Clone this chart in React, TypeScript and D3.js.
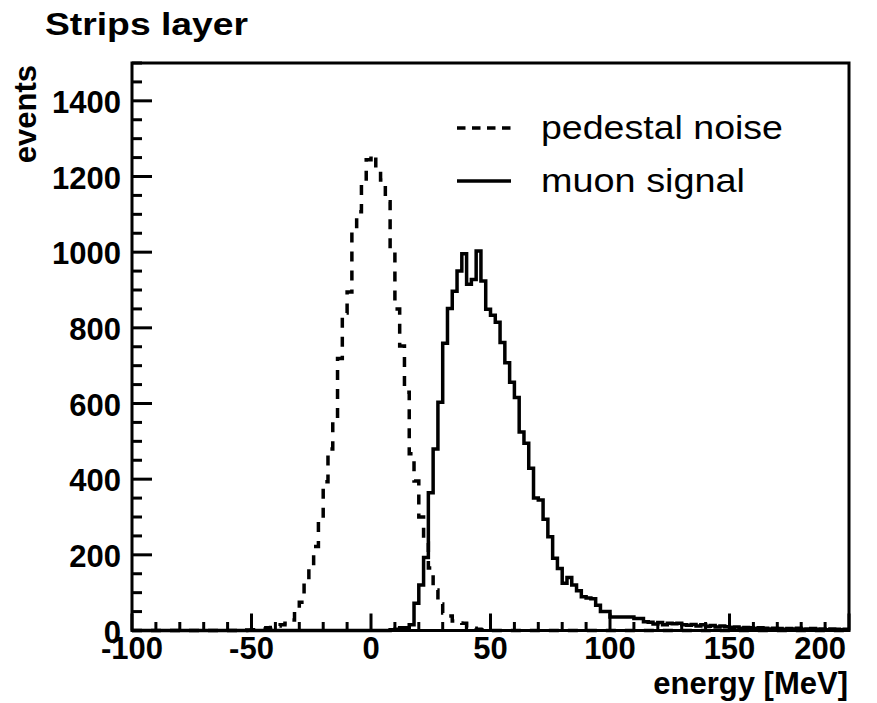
import React from "react";
import * as d3 from "d3";

// ---- data ----
const xDomain = [-100, 200];
const yDomain = [0, 1500];
const binWidth = 2;

// pedestal noise: counts per 2 MeV bin starting at -52 MeV
const noiseStart = -52;
const noiseCounts = [
  1, 2, 3, 4, 7, 8, 12, 15, 19, 28,
  50, 75, 129, 169, 222, 292, 393, 480, 551, 719,
  839, 895, 1063, 1107, 1185, 1244, 1257, 1219, 1191, 1133,
  1008, 850, 752, 630, 467, 395, 300, 231, 165, 107,
  70, 46, 38, 25, 20, 19, 8, 6, 3, 2, 1,
];

// muon signal: counts per 2 MeV bin starting at 8 MeV
const muonStart = 8;
const muonCounts = [
  2, 3, 7, 7, 15, 72, 120, 193, 364, 480,
  603, 759, 851, 897, 950, 996, 915, 928, 1003, 924,
  849, 833, 815, 761, 708, 656, 616, 525, 495, 429,
  350, 345, 294, 248, 191, 164, 125, 140, 120, 105,
  89, 86, 84, 67, 50, 50, 36, 36, 36, 36, 36,
  32, 32, 23, 22, 17, 21, 15, 19, 18, 19,
  15, 14, 16, 12, 15, 11, 13, 9, 12, 10,
  8, 9, 6, 8, 7, 5, 7, 6, 4, 6,
  5, 3, 5, 4, 6, 3, 4, 5, 3, 4,
  2, 4, 3, 2, 3,
];

const xTickLabels = [-100, -50, 0, 50, 100, 150, 200];
const yTickLabels = [0, 200, 400, 600, 800, 1000, 1200, 1400];
const legendLabels = ["pedestal noise", "muon signal"];
const titleText = "Strips layer";
const xTitle = "energy [MeV]";
const yTitle = "events";

// ---- helpers ----
function fullBins(start: number, counts: number[]): [number, number][] {
  const n = Math.round((xDomain[1] - xDomain[0]) / binWidth);
  const out: [number, number][] = [];
  for (let i = 0; i < n; i++) {
    const lo = xDomain[0] + i * binWidth;
    const k = Math.round((lo - start) / binWidth);
    const c = k >= 0 && k < counts.length ? counts[k] : 0;
    out.push([lo, c]);
  }
  out.push([xDomain[1], out[out.length - 1][1]]);
  return out;
}

const FONT = "'Liberation Sans', Arial, Helvetica, sans-serif";

export default function App() {
  const left = 132, right = 849, top = 63, bottom = 630.5;
  const x = d3.scaleLinear().domain(xDomain).range([left, right]);
  const y = d3.scaleLinear().domain(yDomain).range([bottom, top]);

  const line = d3
    .line<[number, number]>()
    .x((d) => x(d[0]))
    .y((d) => y(d[1]))
    .curve(d3.curveStepAfter);

  const noisePath = line(fullBins(noiseStart, noiseCounts)) || "";
  const muonPath = line(fullBins(muonStart, muonCounts)) || "";

  const xMinor = d3.range(xDomain[0], xDomain[1] + 0.001, 10).filter((v) => v % 50 !== 0);
  const yMinor = d3.range(yDomain[0], yDomain[1] + 0.001, 50).filter((v) => v % 200 !== 0);

  return (
    <svg
      width={877}
      height={703}
      style={{ position: "absolute", left: 0, top: 0, background: "#fff" }}
      fontFamily={FONT}
    >
      <rect x={0} y={0} width={877} height={703} fill="#fff" />
      {/* title */}
      <text x={45} y={35} fontSize={32} fontWeight="bold" textLength={203} lengthAdjust="spacingAndGlyphs">
        {titleText}
      </text>

      {/* histograms */}
      <path d={noisePath} fill="none" stroke="#000" strokeWidth={3.5} strokeDasharray="10 9" />
      <path d={muonPath} fill="none" stroke="#000" strokeWidth={3.5} />

      {/* frame */}
      <rect x={left} y={top} width={right - left} height={bottom - top} fill="none" stroke="#000" strokeWidth={3} />

      {/* x ticks */}
      {xTickLabels.map((v) => (
        <line key={"xM" + v} x1={x(v)} x2={x(v)} y1={bottom} y2={bottom - 17} stroke="#000" strokeWidth={3} />
      ))}
      {xMinor.map((v) => (
        <line key={"xm" + v} x1={x(v)} x2={x(v)} y1={bottom} y2={bottom - 8.5} stroke="#000" strokeWidth={3} />
      ))}
      {/* y ticks */}
      {yTickLabels.map((v) => (
        <line key={"yM" + v} x1={left} x2={left + 20} y1={y(v)} y2={y(v)} stroke="#000" strokeWidth={3} />
      ))}
      {yMinor.map((v) => (
        <line key={"ym" + v} x1={left} x2={left + 10} y1={y(v)} y2={y(v)} stroke="#000" strokeWidth={3} />
      ))}

      {/* x tick labels */}
      {xTickLabels.map((v, i) => {
        const last = i === xTickLabels.length - 1;
        return (
          <text
            key={"xl" + v}
            x={last ? right - 3 : x(v)}
            y={659}
            fontSize={31}
            fontWeight="bold"
            textAnchor={last ? "end" : "middle"}
          >
            {v}
          </text>
        );
      })}
      {/* y tick labels */}
      {yTickLabels.map((v) => (
        <text key={"yl" + v} x={121} y={y(v) + 12} fontSize={31} fontWeight="bold" textAnchor="end">
          {v}
        </text>
      ))}

      {/* axis titles */}
      <text x={848} y={694} fontSize={31} fontWeight="bold" textAnchor="end">
        {xTitle}
      </text>
      <text transform="translate(36,65) rotate(-90)" fontSize={31} fontWeight="bold" textAnchor="end">
        {yTitle}
      </text>

      {/* legend */}
      <line x1={457} x2={511} y1={128} y2={128} stroke="#000" strokeWidth={3.5} strokeDasharray="8.5 6.5" />
      <text x={541} y={139} fontSize={34} textLength={242} lengthAdjust="spacingAndGlyphs">
        {legendLabels[0]}
      </text>
      <line x1={457} x2={511} y1={181} y2={181} stroke="#000" strokeWidth={3.5} />
      <text x={541} y={192} fontSize={34} textLength={204} lengthAdjust="spacingAndGlyphs">
        {legendLabels[1]}
      </text>
    </svg>
  );
}
